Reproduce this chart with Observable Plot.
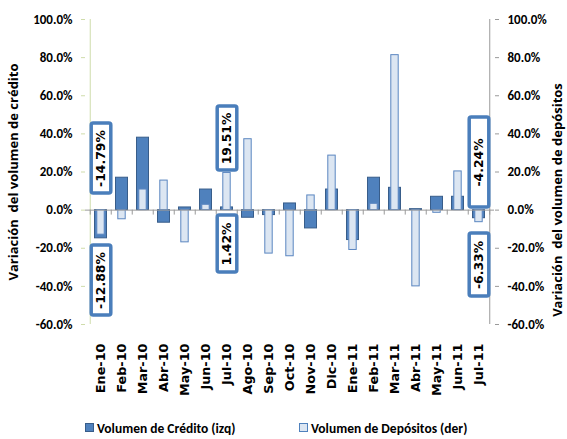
<!DOCTYPE html>
<html>
<head>
<meta charset="utf-8">
<script src="https://cdn.jsdelivr.net/npm/d3@7"></script>
<script src="https://cdn.jsdelivr.net/npm/@observablehq/plot@0.6"></script>
<style>
  html, body { margin: 0; padding: 0; background: #fff; }
  #wrap { position: relative; width: 567px; height: 439px; font-family: Carlito, Calibri, "Liberation Sans Narrow", "Open Sans", sans-serif; font-weight: bold; }
  .leg { position: absolute; top: 420px; font-size: 13.5px; color: #000; white-space: nowrap; }
  .sw { position: absolute; top: 423px; width: 9px; height: 9px; box-sizing: border-box; }
</style>
</head>
<body>
<div id="wrap">
  <div id="chart"></div>
  <div class="sw" style="left:85px;background:#4f81bd;border:1px solid #385d8a;"></div>
  <div class="leg" style="left:97px;">Volumen de Crédito (izq)</div>
  <div class="sw" style="left:299px;background:#dce6f2;border:1px solid #4f81bd;"></div>
  <div class="leg" style="left:311px;">Volumen de Depósitos (der)</div>
</div>
<script>
// Monthly variation (%) of credit and deposit volumes
const months = ["Ene-10","Feb-10","Mar-10","Abr-10","May-10","Jun-10","Jul-10","Ago-10","Sep-10","Oct-10",
                "Nov-10","Dic-10","Ene-11","Feb-11","Mar-11","Abr-11","May-11","Jun-11","Jul-11"];
const credito   = [-14.79, 17.0, 38.0, -6.6, 1.4, 10.8, 1.42, -4.0, -2.6, 3.5, -9.6, 10.8, -15.7, 17.0, 11.7, 0.5, 7.0, 7.0, -4.24];
const depositos = [-12.88, -4.8, 10.8, 15.5, -16.9, 2.8, 19.51, 37.2, -22.8, -24.2, 7.7, 28.6, -20.9, 3.3, 81.3, -40.0, -1.4, 20.3, -6.33];
const yTicks = [-60, -40, -20, 0, 20, 40, 60, 80, 100];

// Highlighted values: which series/month, and where each callout box sits (in axis units)
const callouts = [
  {serie: credito,   i: 0,  y1: 45.4, y2: 8.7},
  {serie: depositos, i: 0,  y1: -18.6, y2: -55.3},
  {serie: depositos, i: 6,  y1: 54.4, y2: 20.8},
  {serie: credito,   i: 6,  y1: -2.8, y2: -32.7},
  {serie: credito,   i: 18, y1: 48.6, y2: 1.4},
  {serie: depositos, i: 18, y1: -12.3, y2: -45.3}
].map(c => ({month: months[c.i], label: c.serie[c.i].toFixed(2) + "%", y1: c.y1, y2: c.y2, ym: (c.y1 + c.y2) / 2}));

const W = 567, H = 410, mL = 85, mR = 73, mT = 19, mB = 86;
const step = (W - mL - mR) / months.length;
const pct = d => d.toFixed(1) + "%";
const rows = months.map((m, i) => ({month: m, c: credito[i], d: depositos[i]}));
const wide = '"DejaVu Sans", Verdana, sans-serif';
const titleFont = '"Open Sans", sans-serif';

const chart = Plot.plot({
  width: W, height: H,
  marginLeft: mL, marginRight: mR, marginTop: mT, marginBottom: mB,
  style: {fontFamily: 'Carlito, Calibri, "Liberation Sans Narrow", "Open Sans", sans-serif', fontWeight: "bold", fontSize: "13px", color: "#000", background: "#fff"},
  x: {type: "band", domain: months, padding: 0},
  y: {domain: [-60, 100]},
  marks: [
    // axis lines
    Plot.ruleX([months[0]], {x: d => d, y1: -60, y2: 100, dx: -step / 2, stroke: "#cfdcab", strokeWidth: 1}),
    Plot.ruleX([months[months.length - 1]], {x: d => d, y1: -60, y2: 100, dx: step / 2, stroke: "#9a9a9a", strokeWidth: 1}),
    Plot.axisY({anchor: "left", ticks: yTicks, tickFormat: pct, tickSize: 4, tickPadding: 9, stroke: "#cfdcab", fill: "#000", label: null}),
    Plot.axisY({anchor: "right", ticks: yTicks, tickFormat: pct, tickSize: 4, tickPadding: 9, stroke: "#9a9a9a", fill: "#000", label: null}),
    Plot.axisX({anchor: "bottom", tickSize: 0, tickPadding: 19, tickRotate: -90, fill: "#000", label: null, fontFamily: wide, fontSize: 12.8}),
    // bars
    Plot.barY(rows, {x: "month", y: "c", fill: "#4f81bd", stroke: "#385d8a", strokeWidth: 1, insetLeft: 4.5, insetRight: 4.5}),
    Plot.barY(rows, {x: "month", y: "d", fill: "#dce6f2", stroke: "#5b86c0", strokeWidth: 1, insetLeft: 6.8, insetRight: 6.8}),
    // zero line with category separators
    Plot.ruleY([0], {stroke: "#9a9a9a", strokeWidth: 1}),
    Plot.ruleX(months, {x: d => d, y1: 0, y2: -2.6, dx: -step / 2, stroke: "#9a9a9a"}),
    Plot.ruleX([months[months.length - 1]], {x: d => d, y1: 0, y2: -2.6, dx: step / 2, stroke: "#9a9a9a"}),
    // callout boxes with values
    Plot.barY(callouts, {x: "month", y1: "y1", y2: "y2", fill: "#fff", stroke: "#4a7ebb", strokeWidth: 3.5, insetLeft: 1.2, insetRight: 0.2, rx: 2}),
    Plot.text(callouts, {x: "month", y: "ym", text: "label", rotate: -90, fontSize: 12.4, fontFamily: wide, fill: "#000", dx: 0.5}),
    // axis titles
    Plot.text(["Variación  del volumen de crédito"], {frameAnchor: "left", textAnchor: "middle", dx: -72, rotate: -90, fontSize: 13, fontFamily: titleFont, fill: "#000"}),
    Plot.text(["Variación  del volumen de depósitos"], {frameAnchor: "right", textAnchor: "middle", dx: 63, dy: 28, rotate: -90, fontSize: 13, fontFamily: titleFont, fill: "#000"})
  ]
});
document.getElementById("chart").appendChild(chart);
</script>
</body>
</html>
